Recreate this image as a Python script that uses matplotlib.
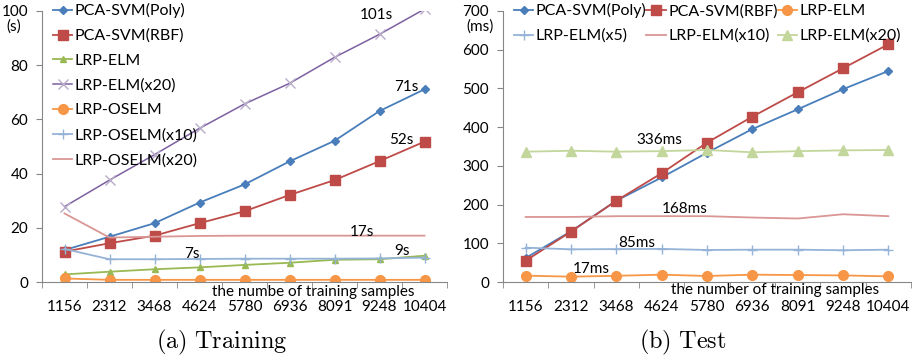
import numpy as np
import matplotlib.pyplot as plt
from matplotlib.ticker import FixedLocator

plt.rcParams['font.family'] = ['Lato', 'DejaVu Sans']
plt.rcParams['mathtext.fontset'] = 'cm'

samples = ['1156', '2312', '3468', '4624', '5780', '6936', '8091', '9248', '10404']

# training time (s)
train_poly = [11.8, 16.7, 21.7, 29.3, 36.0, 44.5, 52.1, 63.1, 71.1]
train_rbf = [11.2, 14.3, 17.1, 21.7, 26.1, 32.1, 37.6, 44.6, 51.8]
train_elm = [2.8, 3.8, 4.7, 5.4, 6.3, 7.1, 8.2, 8.4, 9.7]
train_elm20 = [27.8, 37.6, 47.0, 56.7, 65.7, 73.3, 82.9, 91.4, 100.7]
train_oselm = [1.3, 0.8, 0.8, 0.8, 0.8, 0.8, 0.8, 0.8, 0.8]
train_oselm10 = [12.2, 8.4, 8.4, 8.5, 8.6, 8.6, 8.6, 8.7, 9.0]
train_oselm20 = [25.3, 16.4, 16.7, 17.0, 17.1, 17.1, 17.1, 17.1, 17.1]

# test time (ms)
test_poly = [62, 131, 210, 270, 334, 395, 446, 498, 545]
test_rbf = [55, 130, 210, 281, 360, 427, 490, 552, 614]
test_elm = [16.4, 13.8, 16.0, 18.9, 15.5, 18.9, 18.0, 17.0, 14.6]
test_elm5 = [88.7, 84.4, 85.0, 85.5, 82.7, 83.5, 83.5, 82.0, 83.5]
test_elm10 = [168, 168, 170, 170, 170, 166.5, 164, 175, 170]
test_elm20 = [336.6, 339, 336.6, 338, 341, 335, 338, 340, 341]

BLUE = '#4a7ebb'
RED = '#be4b48'
GREEN = '#98b954'
PURPLE = '#7d60a0'
ORANGE = '#f79646'
LBLUE = '#95b3d7'
LRED = '#d99694'
LGREEN = '#c3d69b'
GRID = '#868686'
FS = 11      # ticks and notes
LFS = 11.5   # legend

fig = plt.figure(figsize=(9.19, 3.58), dpi=100)
W, H = 919, 358


def make_ax(x0, x1, y0, y1):
    ax = fig.add_axes([x0 / W, 1 - y1 / H, (x1 - x0) / W, (y1 - y0) / H])
    for s in ['top', 'right']:
        ax.spines[s].set_visible(False)
    for s in ['left', 'bottom']:
        ax.spines[s].set_color(GRID)
        ax.spines[s].set_linewidth(0.8)
    ax.set_xlim(-0.5, 8.5)
    ax.set_xticks(range(len(samples)))
    ax.set_xticklabels(samples, fontsize=FS)
    ax.xaxis.set_minor_locator(FixedLocator(np.arange(-0.5, 9, 1)))
    ax.tick_params(axis='x', which='major', length=0, pad=13)
    ax.tick_params(axis='x', which='minor', length=4, color=GRID, direction='out')
    ax.tick_params(axis='y', length=4, color=GRID, pad=6, labelsize=FS)
    return ax


x = np.arange(len(samples))

# ---- (a) Training
ax1 = make_ax(42, 447, 11, 282)
ax1.set_ylim(0, 100)
ax1.set_yticks([0, 20, 40, 60, 80, 100])
ax1.plot(x, train_poly, color=BLUE, marker='D', ms=4.5, lw=1.3, label='PCA-SVM(Poly)')
ax1.plot(x, train_rbf, color=RED, marker='s', ms=7, lw=1.3, label='PCA-SVM(RBF)')
ax1.plot(x, train_elm, color=GREEN, marker='^', ms=5, lw=1.3, label='LRP-ELM')
ax1.plot(x, train_elm20, color=PURPLE, marker='x', ms=7, mec='#b8acc8', lw=1.1, label='LRP-ELM(x20)')
ax1.plot(x, train_oselm, color=ORANGE, marker='o', ms=7, lw=1.3, label='LRP-OSELM')
ax1.plot(x, train_oselm10, color=LBLUE, marker='+', ms=7, lw=1.3, label='LRP-OSELM(x10)')
ax1.plot(x, train_oselm20, color=LRED, lw=1.3, label='LRP-OSELM(x20)')
ax1.legend(loc='upper left', bbox_to_anchor=(0.0, 1.07), frameon=False, fontsize=LFS,
           handlelength=1.2, handletextpad=0.15, labelspacing=0.66, borderaxespad=0.3)
ax1.text(-0.069, 0.941, '(s)', transform=ax1.transAxes, ha='center', va='center', fontsize=FS)
ax1.text(6.93, 98.5, '101s', ha='center', va='center', fontsize=FS)
ax1.text(7.6, 72.0, '71s', ha='center', va='center', fontsize=FS)
ax1.text(7.49, 52.4, '52s', ha='center', va='center', fontsize=FS)
ax1.text(6.6, 18.5, '17s', ha='center', va='center', fontsize=FS)
ax1.text(2.84, 10.3, '7s', ha='center', va='center', fontsize=FS)
ax1.text(7.49, 11.4, '9s', ha='center', va='center', fontsize=FS)
ax1.text(5.53, -3.7, 'the numbe of training samples', ha='center', va='center', fontsize=FS)

# ---- (b) Test
ax2 = make_ax(503, 911, 11, 282)
ax2.set_ylim(0, 700)
ax2.set_yticks(range(0, 701, 100))
ax2.plot(x, test_poly, color=BLUE, marker='D', ms=4.5, lw=1.3, label='PCA-SVM(Poly)')
ax2.plot(x, test_rbf, color=RED, marker='s', ms=7, lw=1.3, label='PCA-SVM(RBF)')
ax2.plot(x, test_elm, color=ORANGE, marker='o', ms=7, lw=1.3, label='LRP-ELM')
ax2.plot(x, test_elm5, color=LBLUE, marker='+', ms=7, lw=1.3, label='LRP-ELM(x5)')
ax2.plot(x, test_elm10, color=LRED, lw=1.3, label='LRP-ELM(x10)')
ax2.plot(x, test_elm20, color=LGREEN, marker='^', ms=7, lw=1.3, label='LRP-ELM(x20)')
h, l = ax2.get_legend_handles_labels()
order = [0, 3, 1, 4, 2, 5]  # row-major layout in three columns
ax2.legend([h[i] for i in order], [l[i] for i in order], loc='upper left',
           bbox_to_anchor=(0.0, 1.07), frameon=False, fontsize=LFS, ncol=3,
           handlelength=1.2, handletextpad=0.15, labelspacing=0.66, columnspacing=0.0,
           borderaxespad=0.3)
ax2.text(-0.056, 0.941, '(ms)', transform=ax2.transAxes, ha='center', va='center', fontsize=FS)
ax2.text(2.95, 367, '336ms', ha='center', va='center', fontsize=FS)
ax2.text(3.5, 189, '168ms', ha='center', va='center', fontsize=FS)
ax2.text(2.45, 101, '85ms', ha='center', va='center', fontsize=FS)
ax2.text(1.45, 34, '17ms', ha='center', va='center', fontsize=FS)
ax2.text(5.5, -21, 'the number of training samples', ha='center', va='center', fontsize=FS)

fig.text(222 / W, 1 - 342 / H, r'$\mathrm{(a)\ Training}$', ha='center', va='center', fontsize=17.5)
fig.text(683 / W, 1 - 342 / H, r'$\mathrm{(b)\ Test}$', ha='center', va='center', fontsize=17.5)

fig.savefig('out.png', dpi=100)
